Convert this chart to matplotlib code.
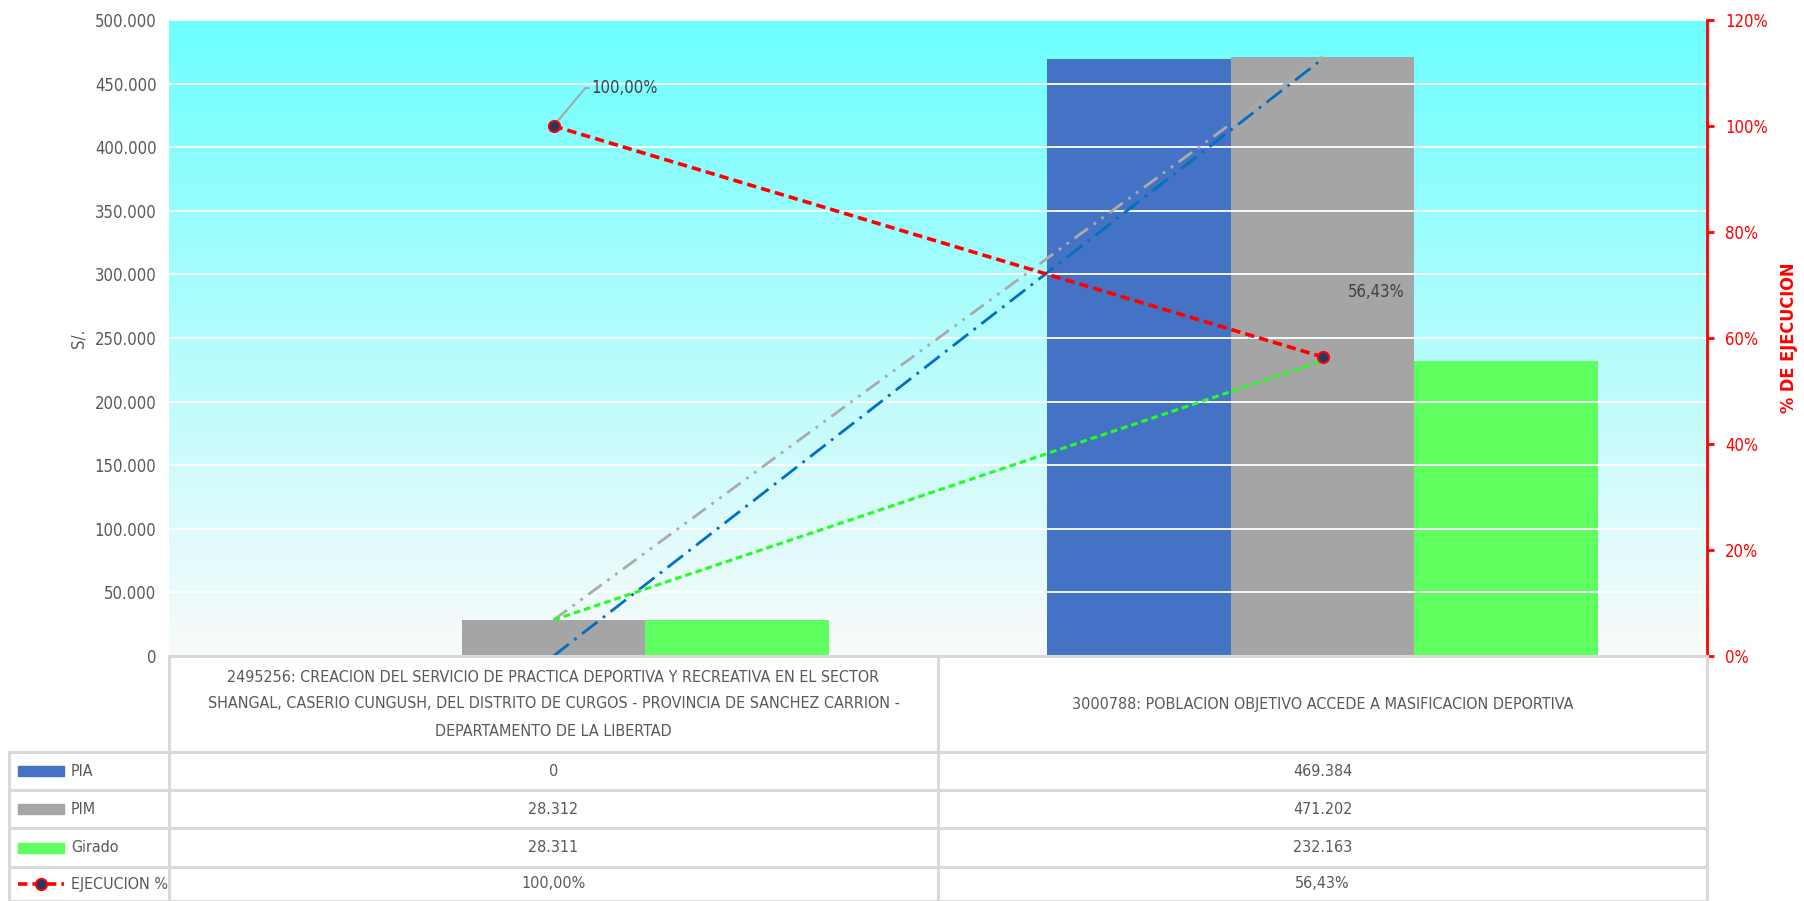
import matplotlib
matplotlib.use('Agg')
import matplotlib.pyplot as plt
import numpy as np
from matplotlib import font_manager
from matplotlib.colors import LinearSegmentedColormap
from matplotlib.patches import Rectangle
from matplotlib.lines import Line2D
from matplotlib.ticker import FuncFormatter, MultipleLocator

# data
categorias = ['2495256: CREACION DEL SERVICIO DE PRACTICA DEPORTIVA Y RECREATIVA EN EL SECTOR\n'
              'SHANGAL, CASERIO CUNGUSH, DEL DISTRITO DE CURGOS - PROVINCIA DE SANCHEZ CARRION -\n'
              'DEPARTAMENTO DE LA LIBERTAD',
              '3000788: POBLACION OBJETIVO ACCEDE A MASIFICACION DEPORTIVA']
pia = [0, 469384]
pim = [28312, 471202]
girado = [28311, 232163]
ejecucion = [1.0, 0.5643]
series = ['PIA', 'PIM', 'Girado', 'EJECUCION %']

# fonts
names = {f.name for f in font_manager.fontManager.ttflist}
if 'Liberation Sans Narrow' in names:
    plt.rcParams['font.family'] = ['Liberation Sans Narrow', 'DejaVu Sans']
else:
    plt.rcParams['font.family'] = ['DejaVu Sans']
    plt.rcParams['font.stretch'] = 'condensed'

c_pia, c_pim, c_gir = '#4472C4', '#A5A5A5', '#5EFF5E'
txt = '#595959'
fs = 12
fst = 11.5
W, H = 1804, 901

def miles(v, pos=None):
    return f'{v:,.0f}'.replace(',', '.')

def pct2(v):
    return f'{v*100:.2f}%'.replace('.', ',')

fig = plt.figure(figsize=(W/100, H/100), dpi=100)
L, R, T, B = 169, 1707, 20, 656
ax = fig.add_axes([L/W, 1-B/H, (R-L)/W, (B-T)/H])

# gradient background
cmap = LinearSegmentedColormap.from_list('g', ['#FAFAFA', '#6CFFFF'])
grad = np.linspace(0, 1, 256).reshape(-1, 1)
ax.imshow(grad, extent=[-0.5, 1.5, 0, 500000], origin='lower', aspect='auto', cmap=cmap, zorder=0)

x = np.arange(len(categorias))
w = 0.2386
ax.bar(x - w, pia, w, color=c_pia, zorder=2)
ax.bar(x, pim, w, color=c_pim, zorder=2)
ax.bar(x + w, girado, w, color=c_gir, zorder=2)

# trendlines
ax.plot(x, pim, color='#ABABAB', lw=2.0, dashes=(6, 2.5, 1, 2.5, 1, 2.5), zorder=3)
ax.plot(x, pia, color='#0070C0', lw=2.0, dashes=(7, 2.5, 1, 2.5), zorder=3)
ax.plot(x, girado, color='#22FF22', lw=2.2, dashes=(2.2, 1.3), zorder=3)

ax.set_xlim(-0.5, 1.5)
ax.set_ylim(0, 500000)
ax.yaxis.set_major_locator(MultipleLocator(50000))
ax.yaxis.set_major_formatter(FuncFormatter(miles))
ax.grid(axis='y', color='white', lw=1.3, zorder=1)
ax.set_axisbelow(False)
for s in ax.spines.values():
    s.set_visible(False)
ax.set_xticks([])
ax.tick_params(axis='y', length=0, labelsize=fs, labelcolor=txt, pad=9)
ax.set_ylabel('S/.', fontsize=fs, color=txt)
ax.yaxis.set_label_coords((88 - L) / (R - L), 0.5)

ax2 = ax.twinx()
ax2.plot(x, ejecucion, color='#FF0000', lw=2.6, dashes=(2.6, 1.4), marker='o', ms=8,
         mfc='#1F3864', mec='#FF0000', mew=1.5, zorder=5)
ax2.set_ylim(0, 1.2)
ax2.yaxis.set_major_locator(MultipleLocator(0.2))
ax2.yaxis.set_major_formatter(FuncFormatter(lambda v, p: f'{v*100:.0f}%'))
for k in ['top', 'left', 'bottom']:
    ax2.spines[k].set_visible(False)
ax2.spines['right'].set_color('#FF0000')
ax2.spines['right'].set_linewidth(2)
ax2.tick_params(axis='y', colors='#FF0000', labelcolor='#FF0000', labelsize=fs,
                length=5, width=2, direction='out', pad=8)
ax2.set_ylabel('% DE EJECUCION', color='#FF0000', fontsize=13, fontweight='bold')
ax2.yaxis.set_label_coords((1780 - L) / (R - L), 0.5)

# data labels
ax2.annotate(pct2(ejecucion[0]), xy=(x[0], ejecucion[0]), xytext=(38, 38), textcoords='offset pixels',
             fontsize=fs, color='#404040', va='center', ha='left',
             arrowprops=dict(arrowstyle='-', color='#A6A6A6', lw=1.5, shrinkA=0, shrinkB=2,
                             connectionstyle='angle,angleA=0,angleB=50,rad=0'))
ax2.annotate(pct2(ejecucion[1]), xy=(x[1], ejecucion[1]), xytext=(25, 65), textcoords='offset pixels',
             fontsize=fs, color='#404040', va='center', ha='left')

# data table
tb = fig.add_axes([0, 0, 1, 1], zorder=10)
tb.set_xlim(0, W)
tb.set_ylim(H, 0)
tb.axis('off')
tb.patch.set_visible(False)
gc = '#D9D9D9'
mid = (L + R) / 2
rows = [B, 752, 790, 828, 867, 901]
tb.plot([L, R], [B, B], color=gc, lw=2.2)
for yy in rows[1:]:
    tb.plot([9, R], [yy, yy], color=gc, lw=2.2)
for xx in [L, mid, R]:
    tb.plot([xx, xx], [B, H], color=gc, lw=2.2)
tb.plot([9, 9], [rows[1], H], color=gc, lw=2.2)

ccx = [(L + mid) / 2, (mid + R) / 2]
for i, c in enumerate(categorias):
    tb.text(ccx[i], (rows[0] + rows[1]) / 2, c, ha='center', va='center', fontsize=fst,
            color=txt, linespacing=2.0)

vals = [[miles(v) for v in pia], [miles(v) for v in pim], [miles(v) for v in girado],
        [pct2(v) for v in ejecucion]]
for r in range(4):
    yc = (rows[r + 1] + rows[r + 2]) / 2
    for i in range(2):
        tb.text(ccx[i], yc, vals[r][i], ha='center', va='center', fontsize=fst, color=txt)
    tb.text(71, yc, series[r], ha='left', va='center', fontsize=fst, color=txt)
    if r < 3:
        col = [c_pia, c_pim, c_gir][r]
        tb.add_patch(Rectangle((18, yc - 5), 46, 10, color=col))
    else:
        tb.add_line(Line2D([18, 64], [yc, yc], color='#FF0000', lw=2.6, dashes=(2.6, 1.4)))
        tb.plot([41], [yc], marker='o', ms=8, mfc='#1F3864', mec='#FF0000', mew=1.5)

fig.savefig('out.png', dpi=100)
